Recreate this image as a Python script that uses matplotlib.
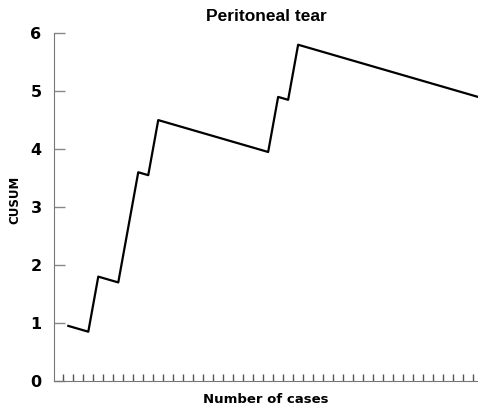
import matplotlib
matplotlib.use("Agg")
import matplotlib.pyplot as plt

# CUSUM values, one per case
cases = list(range(1, 43))
cusum = [0.95, 0.90, 0.85, 1.80, 1.75, 1.70, 2.65, 3.60, 3.55, 4.50,
         4.45, 4.40, 4.35, 4.30, 4.25, 4.20, 4.15, 4.10, 4.05, 4.00,
         3.95, 4.90, 4.85, 5.80, 5.75, 5.70, 5.65, 5.60, 5.55, 5.50,
         5.45, 5.40, 5.35, 5.30, 5.25, 5.20, 5.15, 5.10, 5.05, 5.00,
         4.95, 4.90]
y_ticks = [0, 1, 2, 3, 4, 5, 6]

plt.rcParams['font.family'] = ['Liberation Sans', 'DejaVu Sans']

fig = plt.figure(figsize=(4.78, 4.09), dpi=100)
ax = fig.add_axes([0.113, 0.0685, 0.887, 0.8505])

ax.plot(cases, cusum, color='black', linewidth=1.6, clip_on=False)

ax.set_xlim(-0.43, 42)
ax.set_ylim(0, 6)

# one tick between each case, pointing up from the axis
ax.set_xticks([c - 0.5 for c in cases])
ax.set_xticklabels([])
ax.tick_params(axis='x', direction='in', length=5, width=1, color='#555555')

ax.set_yticks(y_ticks)
ax.set_yticklabels([str(v) for v in y_ticks], fontsize=11.5, fontweight='bold',
                   family='DejaVu Sans')
ax.tick_params(axis='y', direction='in', length=8, width=1, color='#888888', pad=9)

for side in ['top', 'right']:
    ax.spines[side].set_visible(False)
ax.spines['left'].set_color('#777777')
ax.spines['bottom'].set_color('#777777')

ax.set_title("Peritoneal tear", fontsize=12.5, fontweight='bold', pad=9)
ax.set_xlabel("Number of cases", fontsize=9.5, fontweight='bold', labelpad=5,
              family='DejaVu Sans')
ax.set_ylabel("CUSUM", fontsize=8.5, fontweight='bold', family='DejaVu Sans')
ax.yaxis.set_label_coords(-0.078, 0.52)

fig.savefig("out.png", dpi=100)
